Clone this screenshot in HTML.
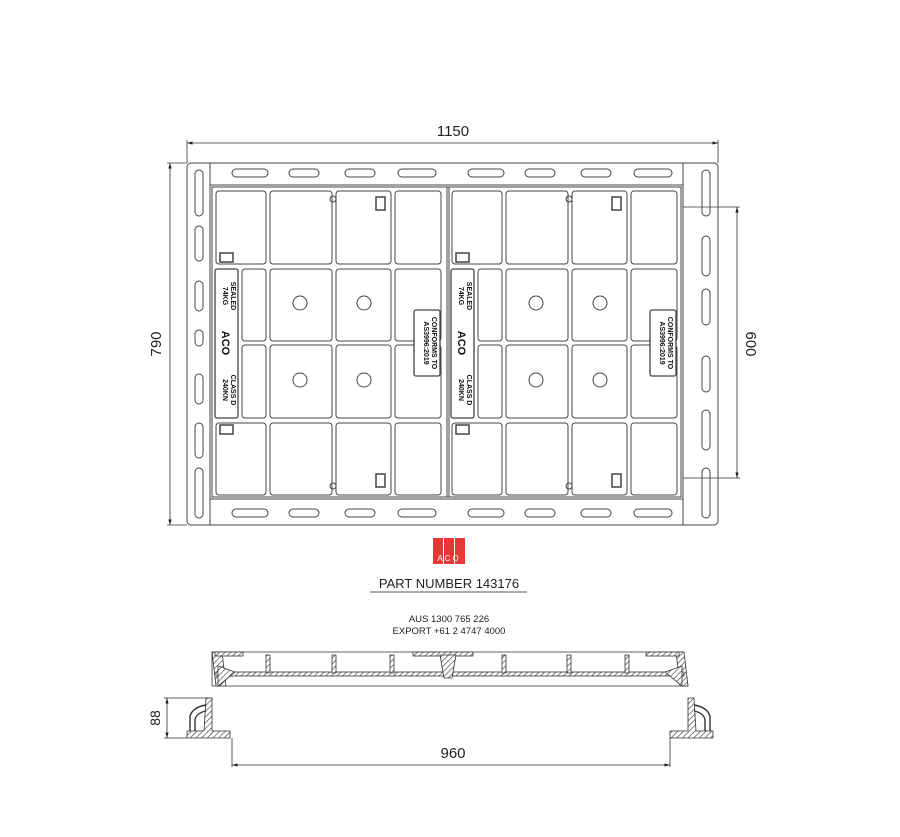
<!DOCTYPE html>
<html><head><meta charset="utf-8"><style>
html,body{margin:0;padding:0;background:#fff;}
svg{display:block;}
text{font-family:"Liberation Sans",sans-serif;}
</style></head><body>
<svg width="900" height="837" viewBox="0 0 900 837" xmlns="http://www.w3.org/2000/svg">
<defs>
<pattern id="h" width="4" height="4" patternUnits="userSpaceOnUse" patternTransform="rotate(45)">
<rect width="4" height="4" fill="#fff"/><line x1="0" y1="0" x2="0" y2="4" stroke="#333" stroke-width="1.2"/></pattern>
<marker id="a" viewBox="0 0 10 10" refX="10" refY="5" markerWidth="7" markerHeight="7" orient="auto-start-reverse"><path d="M0,2 L10,5 L0,8z" fill="#222"/></marker>
<g id="cover" fill="none" stroke="#444" stroke-width="1">
  <!-- row1 -->
  <rect x="216" y="191" width="50" height="73" rx="3"/>
  <rect x="270" y="191" width="62" height="73" rx="3"/>
  <rect x="336" y="191" width="55" height="73" rx="3"/>
  <rect x="395" y="191" width="46" height="73" rx="3"/>
  <!-- row2 -->
  <rect x="242" y="269" width="24" height="72" rx="3"/>
  <rect x="270" y="269" width="62" height="72" rx="3"/>
  <rect x="336" y="269" width="55" height="72" rx="3"/>
  <rect x="395" y="269" width="46" height="72" rx="3"/>
  <!-- row3 -->
  <rect x="242" y="345" width="24" height="73" rx="3"/>
  <rect x="270" y="345" width="62" height="73" rx="3"/>
  <rect x="336" y="345" width="55" height="73" rx="3"/>
  <rect x="395" y="345" width="46" height="73" rx="3"/>
  <!-- row4 -->
  <rect x="216" y="423" width="50" height="72" rx="3"/>
  <rect x="270" y="423" width="62" height="72" rx="3"/>
  <rect x="336" y="423" width="55" height="72" rx="3"/>
  <rect x="395" y="423" width="46" height="72" rx="3"/>
  <!-- holes -->
  <circle cx="300" cy="303" r="7"/><circle cx="364" cy="303" r="7"/>
  <circle cx="300" cy="380" r="7"/><circle cx="364" cy="380" r="7"/>
  <circle cx="333" cy="199" r="3"/><circle cx="333" cy="486" r="3"/>
  <!-- small squares -->
  <rect x="376" y="197" width="9" height="13" stroke-width="1.5"/>
  <rect x="376" y="474" width="9" height="13" stroke-width="1.5"/>
  <rect x="220" y="253" width="13" height="9" stroke-width="1.5"/>
  <rect x="220" y="425" width="13" height="9" stroke-width="1.5"/>
  <!-- label strip -->
  <rect x="215" y="269" width="23" height="149" rx="2" stroke-width="1.3"/>
  <rect x="414" y="310" width="26" height="66" rx="2" stroke-width="1.3" fill="#fff"/>
</g>
<g id="ctext" fill="#111" font-weight="bold">
  <text transform="translate(231,296) rotate(90)" font-size="7" text-anchor="middle">SEALED</text>
  <text transform="translate(223,296) rotate(90)" font-size="7" text-anchor="middle">74KG</text>
  <text transform="translate(222,343) rotate(90)" font-size="11" text-anchor="middle">ACO</text>
  <text transform="translate(231,390) rotate(90)" font-size="7" text-anchor="middle">CLASS D</text>
  <text transform="translate(223,390) rotate(90)" font-size="7" text-anchor="middle">240KN</text>
  <text transform="translate(432,343) rotate(90)" font-size="7" text-anchor="middle">CONFORMS TO</text>
  <text transform="translate(424,343) rotate(90)" font-size="7" text-anchor="middle">AS3996:2019</text>
</g>
</defs>

<!-- dimensions top -->
<g stroke="#333" stroke-width="0.8" fill="none">
<line x1="187" y1="143" x2="718" y2="143" marker-start="url(#a)" marker-end="url(#a)"/>
<line x1="187" y1="140" x2="187" y2="163"/><line x1="718" y1="140" x2="718" y2="163"/>
<line x1="170" y1="163" x2="170" y2="525" marker-start="url(#a)" marker-end="url(#a)"/>
<line x1="167" y1="163" x2="187" y2="163"/><line x1="167" y1="525" x2="187" y2="525"/>
<line x1="737" y1="207" x2="737" y2="478" marker-start="url(#a)" marker-end="url(#a)"/>
<line x1="683" y1="207" x2="740" y2="207"/><line x1="683" y1="478" x2="740" y2="478"/>
</g>
<text x="453" y="136" font-size="15" text-anchor="middle" fill="#222">1150</text>
<text transform="translate(161,344) rotate(-90)" font-size="15" text-anchor="middle" fill="#222">790</text>
<text transform="translate(746,344) rotate(90)" font-size="15" text-anchor="middle" fill="#222">600</text>

<!-- outer frame -->
<g fill="none" stroke="#444" stroke-width="1">
<rect x="187" y="163" width="531" height="362" rx="4"/>
<rect x="210" y="185" width="473" height="314"/>
<rect x="212" y="187" width="469" height="310"/>
<line x1="447" y1="187" x2="447" y2="497"/><line x1="449" y1="187" x2="449" y2="497"/>
<line x1="210" y1="163" x2="210" y2="185"/><line x1="683" y1="163" x2="683" y2="185"/>
<line x1="210" y1="499" x2="210" y2="525"/><line x1="683" y1="499" x2="683" y2="525"/>
<!-- top slots -->
<rect x="232" y="169" width="36" height="8" rx="4"/><rect x="289" y="169" width="30" height="8" rx="4"/>
<rect x="345" y="169" width="30" height="8" rx="4"/><rect x="398" y="169" width="38" height="8" rx="4"/>
<rect x="468" y="169" width="36" height="8" rx="4"/><rect x="525" y="169" width="30" height="8" rx="4"/>
<rect x="581" y="169" width="30" height="8" rx="4"/><rect x="634" y="169" width="38" height="8" rx="4"/>
<!-- bottom slots -->
<rect x="232" y="509" width="36" height="8" rx="4"/><rect x="289" y="509" width="30" height="8" rx="4"/>
<rect x="345" y="509" width="30" height="8" rx="4"/><rect x="398" y="509" width="38" height="8" rx="4"/>
<rect x="468" y="509" width="36" height="8" rx="4"/><rect x="525" y="509" width="30" height="8" rx="4"/>
<rect x="581" y="509" width="30" height="8" rx="4"/><rect x="634" y="509" width="38" height="8" rx="4"/>
<!-- left slots -->
<rect x="195" y="170" width="8" height="46" rx="4"/><rect x="195" y="226" width="8" height="35" rx="4"/>
<rect x="195" y="281" width="8" height="30" rx="4"/><rect x="195" y="330" width="8" height="16" rx="4"/>
<rect x="195" y="374" width="8" height="30" rx="4"/><rect x="195" y="423" width="8" height="35" rx="4"/>
<rect x="195" y="468" width="8" height="50" rx="4"/>
<!-- right slots -->
<rect x="702" y="170" width="8" height="46" rx="4"/><rect x="702" y="236" width="8" height="40" rx="4"/>
<rect x="702" y="289" width="8" height="36" rx="4"/><rect x="702" y="356" width="8" height="36" rx="4"/>
<rect x="702" y="410" width="8" height="40" rx="4"/><rect x="702" y="468" width="8" height="50" rx="4"/>
</g>
<use href="#cover"/><use href="#ctext"/>
<use href="#cover" transform="translate(236,0)"/><use href="#ctext" transform="translate(236,0)"/>

<!-- ACO logo -->
<rect x="433" y="538" width="10" height="26" fill="#e53935"/>
<rect x="444" y="538" width="10" height="26" fill="#e53935"/>
<rect x="455" y="538" width="10" height="26" fill="#e53935"/>
<text x="449" y="561" font-size="8" fill="#fff" text-anchor="middle" letter-spacing="2">ACO</text>
<text x="449" y="588" font-size="13" text-anchor="middle" fill="#222">PART NUMBER 143176</text>
<line x1="370" y1="592" x2="527" y2="592" stroke="#222" stroke-width="0.8"/>
<text x="449" y="622" font-size="9.5" text-anchor="middle" fill="#222">AUS 1300 765 226</text>
<text x="449" y="634" font-size="9.5" text-anchor="middle" fill="#222">EXPORT +61 2 4747 4000</text>

<!-- section view top -->
<g stroke="#333" stroke-width="0.8">
<path d="M212,652 L683,652 L688,686 L212,686 Z" fill="#fff"/>
<path d="M212,652 L222,652 L226,686 L216,686 Z" fill="url(#h)"/>
<path d="M684,652 L676,652 L680,686 L688,686 Z" fill="url(#h)"/>
<rect x="216" y="672" width="468" height="4" fill="url(#h)"/>
<path d="M218,666 L235,672 L218,686Z" fill="url(#h)"/>
<path d="M682,666 L665,672 L682,686Z" fill="url(#h)"/>
<rect x="215" y="652" width="28" height="4" fill="url(#h)"/>
<rect x="413" y="652" width="60" height="4" fill="url(#h)"/>
<rect x="646" y="652" width="33" height="4" fill="url(#h)"/>
<path d="M440,655 L456,655 L452,678 L444,678Z" fill="url(#h)"/>
<rect x="266" y="655" width="4" height="18" fill="url(#h)"/>
<rect x="332" y="655" width="4" height="18" fill="url(#h)"/>
<rect x="390" y="655" width="4" height="18" fill="url(#h)"/>
<rect x="502" y="655" width="4" height="18" fill="url(#h)"/>
<rect x="567" y="655" width="4" height="18" fill="url(#h)"/>
<rect x="625" y="655" width="4" height="18" fill="url(#h)"/>
<!-- left frame profile -->
<path d="M187,738 L230,738 L230,731 L212,731 L212,698 L206,698 L204,731 L187,731Z" fill="url(#h)"/>
<path d="M206,705 Q193,707 190,716 L190,731 M206,711 Q196,713 195,720 L195,731" fill="none" stroke-width="1.4"/>
<!-- right frame profile -->
<path d="M670,738 L713,738 L713,731 L696,731 L694,698 L688,698 L688,731 L670,731Z" fill="url(#h)"/>
<path d="M694,705 Q707,707 710,716 L710,731 M694,711 Q704,713 705,720 L705,731" fill="none" stroke-width="1.4"/>
</g>
<g stroke="#333" stroke-width="0.8" fill="none">
<line x1="167" y1="698" x2="167" y2="738" marker-start="url(#a)" marker-end="url(#a)"/>
<line x1="164" y1="698" x2="210" y2="698"/><line x1="164" y1="738" x2="187" y2="738"/>
<line x1="232" y1="738" x2="232" y2="767"/><line x1="670" y1="738" x2="670" y2="767"/>
<line x1="232" y1="765" x2="670" y2="765" marker-start="url(#a)" marker-end="url(#a)"/>
</g>
<text transform="translate(160,718) rotate(-90)" font-size="14" text-anchor="middle" fill="#222">88</text>
<text x="453" y="758" font-size="15" text-anchor="middle" fill="#222">960</text>
</svg>
</body></html>
